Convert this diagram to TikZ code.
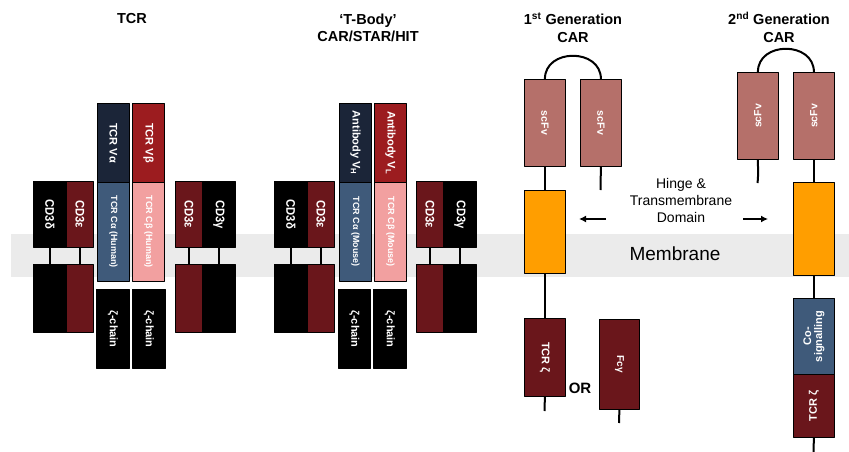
\documentclass[tikz,border=0pt]{standalone}
\usepackage{fontspec}
\setmainfont{Liberation Sans}
\usepackage{graphicx}
\usetikzlibrary{arrows.meta}

\definecolor{navy}{HTML}{1B2538}
\definecolor{vbred}{HTML}{9C1C1F}
\definecolor{steel}{HTML}{3F5A7A}
\definecolor{pinkc}{HTML}{F2A0A0}
\definecolor{maroon}{HTML}{6A161B}
\definecolor{scfv}{HTML}{B5706A}
\definecolor{hinge}{HTML}{FF9E00}
\definecolor{membr}{HTML}{EBEBEB}

\newcommand{\rdown}[1]{\rotatebox{-90}{#1}}
\newcommand{\rup}[1]{\rotatebox{90}{#1}}
\newcommand{\cdlbl}[1]{\rotatebox{-90}{\scalebox{0.9}[1]{#1}}}

\tikzset{
  blk/.style={draw=black, line width=0.8pt, inner sep=0pt, anchor=north west,
              text=white, font=\bfseries\fontsize{11}{13}\selectfont},
  wh/.style 2 args={minimum width=#1, minimum height=#2},
  small/.style={font=\bfseries\fontsize{9}{11}\selectfont},
  cd/.style={font=\bfseries\fontsize{12.5}{14}\selectfont},
  sc/.style={font=\bfseries\fontsize{10.5}{12}\selectfont},
  stem/.style={line width=2pt, line cap=butt},
  ttl/.style={align=center, font=\bfseries\fontsize{14.5}{17.5}\selectfont},
}

\begin{document}
\begin{tikzpicture}[x=1pt, y=-1pt, line join=round]

  %% ════ 膜 ════
  \fill[membr] (11,234) rectangle (849,277);
  \node[font=\fontsize{19}{23}\selectfont] (memlbl) at (675,254) {Membrane};

  %% ════ 标题 ════
  \node[ttl] (tTCR) at (132,19) {TCR};
  \node[ttl] (tTB)  at (368,28) {‘T-Body’\\CAR/STAR/HIT};
  \node[ttl] (tG1)  at (573,27.5) {1\textsuperscript{st} Generation\\CAR};
  \node[ttl] (tG2)  at (779,27.5) {2\textsuperscript{nd} Generation\\CAR};

  %% ════ TCR ════
  \node[blk, wh={32}{79}, fill=navy]  (tcrVa) at (97,103)  {\rdown{TCR Vα}};
  \node[blk, wh={32}{79}, fill=vbred] (tcrVb) at (132,103) {\rdown{TCR Vβ}};
  \node[blk, small, wh={32}{99}, fill=steel] (tcrCa) at (97,182)  {\rdown{TCR Cα (Human)}};
  \node[blk, small, wh={32}{99}, fill=pinkc] (tcrCb) at (132,182) {\rdown{TCR Cβ (Human)}};
  \node[blk, cd, wh={33}{66}, fill=black]  (tcrCDd)  at (33,181)  {\cdlbl{CD3δ}};
  \node[blk, cd, wh={27}{66}, fill=maroon] (tcrCDe)  at (66,181)  {\cdlbl{CD3ε}};
  \node[blk, cd, wh={27}{66}, fill=maroon] (tcrCDe2) at (175,181) {\cdlbl{CD3ε}};
  \node[blk, cd, wh={33}{66}, fill=black]  (tcrCDg)  at (202,181) {\cdlbl{CD3γ}};
  \node[blk, wh={33}{68}, fill=black]  (tcrCDdL)  at (33,264)  {};
  \node[blk, wh={27}{68}, fill=maroon] (tcrCDeL)  at (66,264)  {};
  \node[blk, wh={27}{68}, fill=maroon] (tcrCDe2L) at (175,264) {};
  \node[blk, wh={33}{68}, fill=black]  (tcrCDgL)  at (202,264) {};
  \node[blk, wh={33}{79}, fill=black] (tcrZa) at (96,289)  {\rdown{ζ-chain}};
  \node[blk, wh={33}{79}, fill=black] (tcrZb) at (132,289) {\rdown{ζ-chain}};

  \draw[stem] (tcrCDd.south)  -- (tcrCDdL.north);
  \draw[stem] (tcrCDe.south)  -- (tcrCDeL.north);
  \draw[stem] (tcrCDe2.south) -- (tcrCDe2L.north);
  \draw[stem] (tcrCDg.south)  -- (tcrCDgL.north);

  %% ════ T-Body ════
  \node[blk, wh={32}{79}, fill=navy]  (tbVH) at (339,103) {\rdown{Antibody V\textsubscript{H}}};
  \node[blk, wh={32}{79}, fill=vbred] (tbVL) at (374,103) {\rdown{Antibody V\textsubscript{L}}};
  \node[blk, small, wh={32}{99}, fill=steel] (tbCa) at (339,182) {\rdown{TCR Cα (Mouse)}};
  \node[blk, small, wh={32}{99}, fill=pinkc] (tbCb) at (374,182) {\rdown{TCR Cβ (Mouse)}};
  \node[blk, cd, wh={33}{66}, fill=black]  (tbCDd)  at (274,181) {\cdlbl{CD3δ}};
  \node[blk, cd, wh={27}{66}, fill=maroon] (tbCDe)  at (307,181) {\cdlbl{CD3ε}};
  \node[blk, cd, wh={27}{66}, fill=maroon] (tbCDe2) at (416,181) {\cdlbl{CD3ε}};
  \node[blk, cd, wh={33}{66}, fill=black]  (tbCDg)  at (443,181) {\cdlbl{CD3γ}};
  \node[blk, wh={33}{68}, fill=black]  (tbCDdL)  at (274,264) {};
  \node[blk, wh={27}{68}, fill=maroon] (tbCDeL)  at (307,264) {};
  \node[blk, wh={27}{68}, fill=maroon] (tbCDe2L) at (416,264) {};
  \node[blk, wh={33}{68}, fill=black]  (tbCDgL)  at (443,264) {};
  \node[blk, wh={32}{79}, fill=black] (tbZa) at (338,289) {\rdown{ζ-chain}};
  \node[blk, wh={33}{79}, fill=black] (tbZb) at (373,289) {\rdown{ζ-chain}};

  \draw[stem] (tbCDd.south)  -- (tbCDdL.north);
  \draw[stem] (tbCDe.south)  -- (tbCDeL.north);
  \draw[stem] (tbCDe2.south) -- (tbCDe2L.north);
  \draw[stem] (tbCDg.south)  -- (tbCDgL.north);

  %% ════ 1st Generation CAR ════
  \node[blk, sc, wh={41}{87}, fill=scfv] (c1S1) at (524,79) {\rdown{scFv}};
  \node[blk, sc, wh={41}{87}, fill=scfv] (c1S2) at (580,79) {\rdown{scFv}};
  \node[blk, wh={41}{83}, fill=hinge]  (c1TM) at (524,190) {};
  \node[blk, wh={41}{78}, fill=maroon] (c1Z)  at (524,318) {\rdown{TCR ζ}};
  \node[blk, wh={40}{90}, fill=maroon, font=\bfseries\fontsize{10}{12}\selectfont] (c1Fc) at (599,319) {\rdown{Fcγ}};
  \node[font=\bfseries\fontsize{15}{18}\selectfont] (orlbl) at (580,388) {OR};
  \coordinate (c1S2end) at (600.5,190);
  \coordinate (c1Zend)  at (544.5,411);
  \coordinate (c1Fcend) at (619,423);

  \draw[stem] (c1S1.north) .. controls +(0,-31) and +(0,-31) .. (c1S2.north);
  \draw[stem] (c1S1.south) -- (c1TM.north);
  \draw[stem] (c1S2.south) -- (c1S2end);
  \draw[stem] (c1TM.south) -- (c1Z.north);
  \draw[stem] (c1Z.south)  -- (c1Zend);
  \draw[stem] (c1Fc.south) -- (c1Fcend);

  %% ════ Hinge & Transmembrane ════
  \node[align=center, font=\fontsize{14}{17}\selectfont] (hglbl) at (681,200) {Hinge \&\\Transmembrane\\Domain};
  \coordinate (hgL1) at (606,219);
  \coordinate (hgL2) at (579,219);
  \coordinate (hgR1) at (743,219);
  \coordinate (hgR2) at (768,219);
  \draw[line width=1.5pt, -{Latex[length=7pt,width=7pt]}] (hgL1) -- (hgL2);
  \draw[line width=1.5pt, -{Latex[length=7pt,width=7pt]}] (hgR1) -- (hgR2);

  %% ════ 2nd Generation CAR ════
  \node[blk, sc, wh={41}{87}, fill=scfv] (c2S1) at (737,72) {\rup{scFv}};
  \node[blk, sc, wh={41}{87}, fill=scfv] (c2S2) at (793,72) {\rup{scFv}};
  \node[blk, wh={41}{93}, fill=hinge]  (c2TM) at (793,182) {};
  \node[blk, wh={41}{76}, fill=steel]  (c2Co) at (793,298) {\rup{\begin{tabular}{@{}c@{}}Co-\\[-2pt]signalling\end{tabular}}};
  \node[blk, wh={41}{63}, fill=maroon] (c2Z)  at (793,374) {\rup{TCR ζ}};
  \coordinate (c2S1end) at (757.5,183);
  \coordinate (c2Zend)  at (813.5,452);

  \draw[stem] (c2S1.north) .. controls +(0,-31) and +(0,-31) .. (c2S2.north);
  \draw[stem] (c2S1.south) .. controls +(0,8) and +(1,-8) .. (c2S1end);
  \draw[stem] (c2S2.south) -- (c2TM.north);
  \draw[stem] (c2TM.south) -- (c2Co.north);
  \draw[stem] (c2Z.south)  -- (c2Zend);

  % 画布 849x452
  \pgfresetboundingbox
  \path[use as bounding box] (0,0) rectangle (849,452);
\end{tikzpicture}
\end{document}
